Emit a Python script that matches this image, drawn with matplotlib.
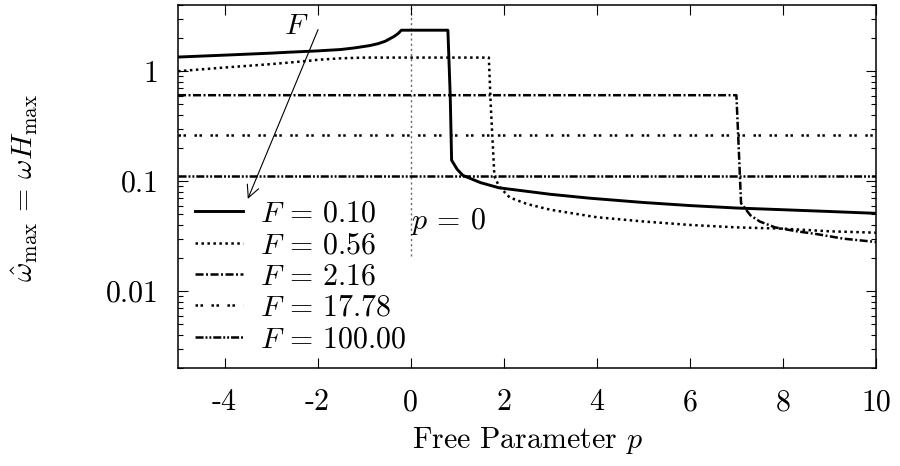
import matplotlib
matplotlib.use("Agg")
import matplotlib.pyplot as plt
from matplotlib.ticker import FixedLocator, FixedFormatter, LogLocator, NullFormatter

plt.rcParams['font.family'] = ['cmr10', 'DejaVu Serif']
plt.rcParams['mathtext.fontset'] = 'cm'
plt.rcParams['axes.unicode_minus'] = False
plt.rcParams['lines.scale_dashes'] = False
plt.rcParams['axes.formatter.use_mathtext'] = True

# ---- data ----
labels = ["$F$ = 0.10", "$F$ = 0.56", "$F$ = 2.16", "$F$ = 17.78", "$F$ = 100.00"]

p_010 = [-5, -4, -3, -2.6, -2, -1.5, -1.2, -0.88, -0.7, -0.55, -0.45, -0.35, -0.27, -0.2,
         0.8, 0.85, 0.88, 1.0, 1.12, 1.5, 1.9, 3, 3.85, 5, 6, 7, 8, 9, 10]
w_010 = [1.345, 1.40, 1.46, 1.49, 1.53, 1.575, 1.63, 1.71, 1.78, 1.87, 1.97, 2.08, 2.2, 2.36,
         2.36, 0.6, 0.155, 0.128, 0.113, 0.097, 0.087, 0.076, 0.070, 0.064, 0.060, 0.057, 0.055, 0.053, 0.051]

p_056 = [-5, -4, -3, -2.3, -2, -1.5, -1, 1.68, 1.72, 1.8, 1.9, 2.0, 2.13, 2.5, 3, 4, 5, 6, 7, 8, 9, 10]
w_056 = [1.0, 1.08, 1.16, 1.23, 1.27, 1.31, 1.33, 1.33, 0.5, 0.11, 0.09, 0.081, 0.071, 0.062, 0.055, 0.047, 0.043, 0.040, 0.038, 0.037, 0.035, 0.034]

p_216 = [-5, 7.0, 7.05, 7.1, 7.3, 7.5, 7.83, 8.3, 8.73, 9.3, 10]
w_216 = [0.605, 0.605, 0.2, 0.063, 0.049, 0.043, 0.038, 0.035, 0.033, 0.030, 0.028]

p_1778 = [-5, 10]
w_1778 = [0.265, 0.265]

p_100 = [-5, 10]
w_100 = [0.111, 0.111]

xticks = [-4, -2, 0, 2, 4, 6, 8, 10]
xticklabels = ["-4", "-2", "0", "2", "4", "6", "8", "10"]
yticks = [0.01, 0.1, 1]
yticklabels = ["0.01", "0.1", "1"]

fig = plt.figure(figsize=(9, 4.66), dpi=100)
ax = fig.add_axes([178/900, 1-368/466, 698/900, 363/466])

lw = 2.1
ax.plot(p_010, w_010, color='black', lw=lw, solid_joinstyle='round', label=labels[0])
ax.plot(p_056, w_056, color='black', lw=1.8, linestyle=(0, (1.8, 2.5)), label=labels[1])
ax.plot(p_216, w_216, color='black', lw=1.8, linestyle=(0, (5.8, 1.8, 1.4, 1.8)), label=labels[2])
ax.plot(p_1778, w_1778, color='black', lw=1.8, linestyle=(0, (1.8, 1.8, 1.8, 6.1)), label=labels[3])
ax.plot(p_100, w_100, color='black', lw=1.8, linestyle=(0, (5.8, 1.4, 1.4, 1.4, 1.4, 1.4)), label=labels[4])

# p = 0 marker line
ax.plot([0, 0], [0.0207, 4], color='#666666', lw=1.0, linestyle=(0, (1.5, 2.2)), zorder=1)
ax.text(0.0, 0.043, "$p$ = 0", fontsize=21.5, ha='left', va='center')

# F arrow
ax.annotate("", xy=(-3.5, 0.069), xytext=(-1.99, 2.39),
            arrowprops=dict(arrowstyle='->', lw=0.8, color='black',
                            mutation_scale=22, shrinkA=0, shrinkB=0))
ax.text(-2.47, 2.55, "$F$", fontsize=21.5, ha='center', va='center')

ax.set_yscale('log')
ax.set_xlim(-5, 10)
ax.set_ylim(0.002, 4)

ax.xaxis.set_major_locator(FixedLocator(xticks))
ax.xaxis.set_major_formatter(FixedFormatter(xticklabels))
ax.yaxis.set_major_locator(FixedLocator(yticks))
ax.yaxis.set_major_formatter(FixedFormatter(yticklabels))
ax.yaxis.set_minor_locator(LogLocator(base=10, subs=[2, 3, 4, 5, 6, 7, 8, 9]))
ax.yaxis.set_minor_formatter(NullFormatter())

ax.tick_params(axis='both', which='major', direction='in', length=7, width=0.8,
               top=True, right=True, labelsize=21.5)
ax.tick_params(axis='x', which='major', pad=15)
ax.tick_params(axis='y', which='major', pad=14)
ax.tick_params(axis='both', which='minor', direction='in', length=3.6, width=0.8,
               top=False, right=True)
for s in ax.spines.values():
    s.set_linewidth(1.1)

leg = ax.legend(loc='lower left', bbox_to_anchor=(0.025, 0.041), frameon=False,
                fontsize=21.5, handlelength=1.6, handletextpad=0.55,
                labelspacing=0.13, borderpad=0, borderaxespad=0)

fig.text(25/900, 1-188/466, r"$\hat{\omega}_{\max}$ = $\omega H_{\max}$", rotation=90,
         fontsize=21.5, ha='center', va='center')
fig.text(527/900, 1-440/466, "Free Parameter $p$", fontsize=21.5, ha='center', va='center')

fig.savefig("out.png", dpi=100)
